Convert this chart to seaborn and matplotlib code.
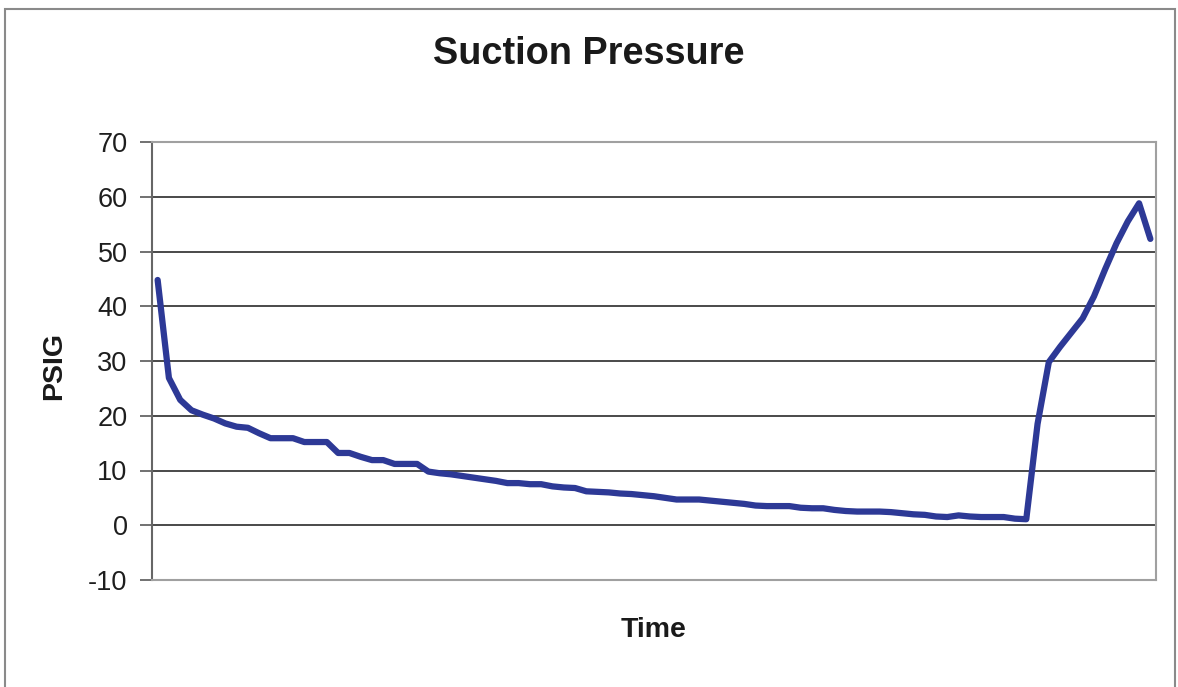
import numpy as np
import pandas as pd
import matplotlib
matplotlib.use("Agg")
import matplotlib.pyplot as plt
import seaborn as sns
from matplotlib.patches import Rectangle

# suction pressure readings (PSIG), one per time step
psig = [44.8, 26.9, 22.9, 21.0, 20.2, 19.5, 18.6, 18.0, 17.8, 16.8,
        15.9, 15.9, 15.9, 15.2, 15.2, 15.2, 13.2, 13.2, 12.5, 11.9,
        11.9, 11.2, 11.2, 11.2, 9.8, 9.5, 9.3, 9.0, 8.7, 8.4,
        8.1, 7.7, 7.7, 7.5, 7.5, 7.1, 6.9, 6.8, 6.2, 6.1,
        6.0, 5.8, 5.7, 5.5, 5.3, 5.0, 4.7, 4.7, 4.7, 4.5,
        4.3, 4.1, 3.9, 3.6, 3.5, 3.5, 3.5, 3.2, 3.1, 3.1,
        2.8, 2.6, 2.5, 2.5, 2.5, 2.4, 2.2, 2.0, 1.9, 1.6,
        1.5, 1.8, 1.6, 1.5, 1.5, 1.5, 1.2, 1.1, 18.5, 29.8,
        32.6, 35.2, 37.8, 41.8, 46.8, 51.5, 55.5, 58.8, 52.3]
steps = list(range(len(psig)))
yticks = [-10, 0, 10, 20, 30, 40, 50, 60, 70]

df = pd.DataFrame({"step": steps, "psig": psig})

sns.set_style("white")
plt.rcParams['font.family'] = ['Liberation Sans', 'DejaVu Sans']
plt.rcParams['axes.unicode_minus'] = False

fig = plt.figure(figsize=(11.78, 6.87), dpi=100)
ax = fig.add_axes([152 / 1178, 1 - 580 / 687, (1156 - 152) / 1178, (580 - 142) / 687])

# outer chart border
fig.patches.append(Rectangle((5 / 1178, -0.02), (1175 - 5) / 1178, 1 - 9 / 687 + 0.02,
                             transform=fig.transFigure, fill=False,
                             edgecolor='#8a8a8a', linewidth=1.5))

# gridlines
for t in yticks[1:]:
    ax.axhline(t, color='#3a3a3a', linewidth=1.3, zorder=1)

sns.lineplot(data=df, x="step", y="psig", ax=ax, color='#2d3996',
             linewidth=4.5, zorder=3)

ax.set_xlim(-0.5, len(psig) - 0.5)
ax.set_ylim(-10, 70)
ax.set_yticks(yticks)
ax.set_xticks([])
ax.tick_params(axis='y', direction='out', length=8.6, width=1.3, color='#666666',
               pad=9, labelsize=19.5, labelcolor='#1e1e1e', left=True)
for side in ['top', 'right', 'bottom']:
    ax.spines[side].set_color('#a0a0a0')
    ax.spines[side].set_linewidth(1.5)
ax.spines['left'].set_color('#666666')
ax.spines['left'].set_linewidth(1.5)
ax.set_xlabel('')
ax.set_ylabel('')

fig.text(0.5, 1 - 54 / 687, 'Suction Pressure', ha='center', va='center',
         fontsize=27.3, fontweight='bold', color='#1a1a1a')
fig.text(654 / 1178, 1 - 630 / 687, 'Time', ha='center', va='center',
         fontsize=20.5, fontweight='bold', color='#1a1a1a')
fig.text(54 / 1178, 1 - 366 / 687, 'PSIG', ha='center', va='center', rotation=90,
         fontsize=20.5, fontweight='bold', color='#1a1a1a')

fig.savefig('out.png', dpi=100)
